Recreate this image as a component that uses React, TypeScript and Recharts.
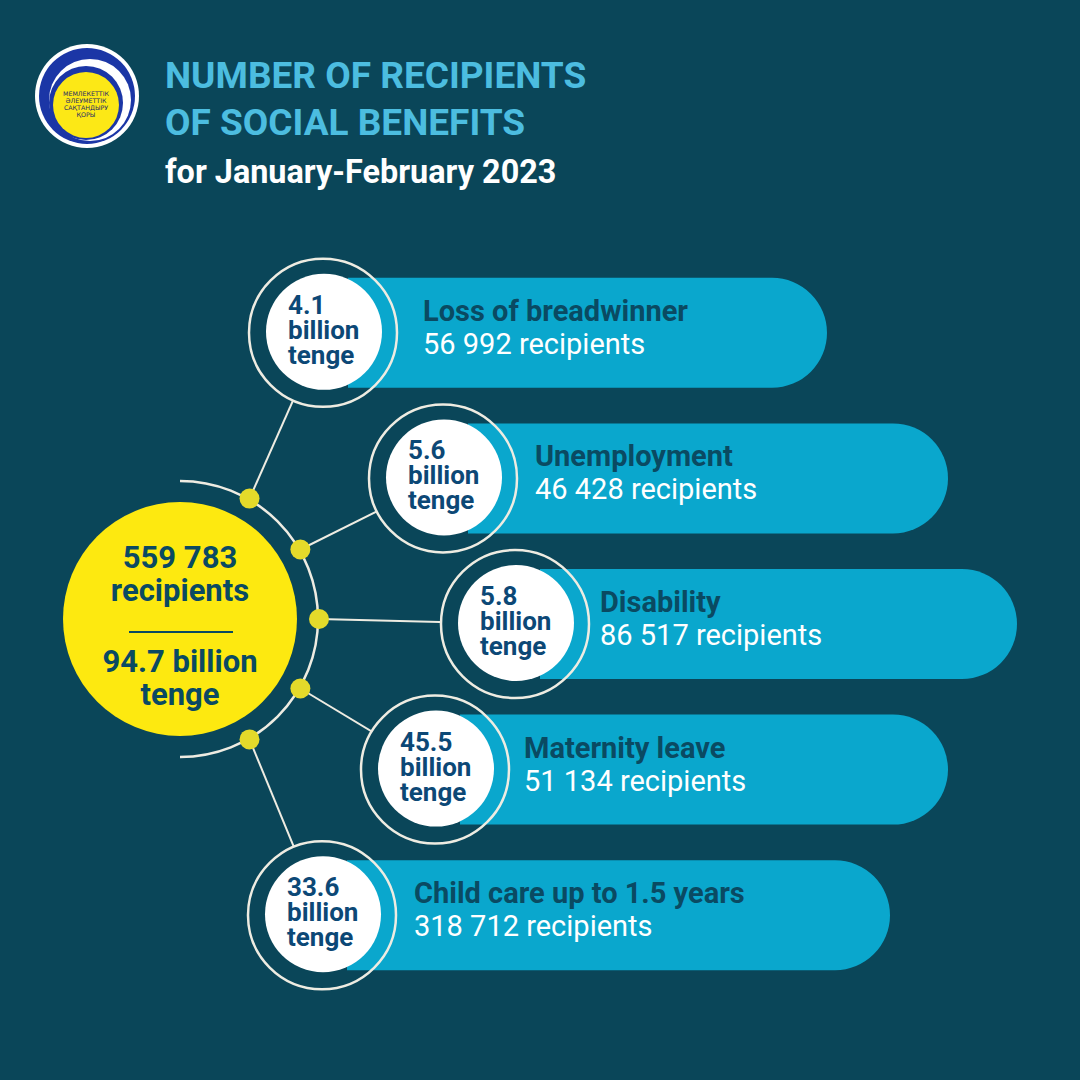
import React from 'react';
import { ScatterChart, Scatter, XAxis, YAxis } from 'recharts';

// benefit types, top to bottom
const CATEGORIES = [
  'Loss of breadwinner',
  'Unemployment',
  'Disability',
  'Maternity leave',
  'Child care up to 1.5 years',
];
const AMOUNT_BN = [4.1, 5.6, 5.8, 45.5, 33.6];
const RECIPIENTS = [56992, 46428, 86517, 51134, 318712];
const TOTAL_RECIPIENTS = 559783;
const TOTAL_BN = 94.7;

// layout of the fan (x of each node, label nudge, where each pill ends)
const NODE_X = [323, 443, 515, 435, 322];
const LABEL_DX = [100, 92, 85, 89, 92];
const PILL_END = [827, 948, 1017, 948, 890];
const HUB_X = 180;
const HUB_DY = -5;

const W = 1080;
const H = 1080;
const PLOT_TOP = 260;
const PLOT_BOTTOM = 92;
const ROW_STEP = (H - PLOT_TOP - PLOT_BOTTOM) / CATEGORIES.length;
const MID = Math.floor(CATEGORIES.length / 2);

const BG = '#0a4659';
const PILL = '#0aa7cd';
const NAVY = '#0c4876';
const DARK = '#0a4a62';
const YELLOW = '#fde910';
const DOT = '#e4da2a';
const RING = '#eeece2';
const FONT = 'Roboto, sans-serif';

const fmt = (n: number) => n.toString().replace(/\B(?=(\d{3})+(?!\d))/g, ' ');

const rows = CATEGORIES.map((name, i) => ({
  name,
  x: NODE_X[i],
  i,
  amount: AMOUNT_BN[i],
  recipients: RECIPIENTS[i],
}));
const hub = [{ name: CATEGORIES[MID], x: HUB_X, recipients: TOTAL_RECIPIENTS, amount: TOTAL_BN }];

const dotAt = (hx: number, hy: number, i: number) => {
  const a = ((i - MID) * 30 * Math.PI) / 180;
  return [hx + 139 * Math.cos(a), hy + 139 * Math.sin(a)];
};

const NodeShape = (props: any) => {
  const { cx, cy, payload } = props;
  const i = payload.i;
  const hubY = cy + (MID - i) * ROW_STEP + HUB_DY;
  const [dx, dy] = dotAt(HUB_X, hubY, i);
  const left = cx + 25;
  const right = PILL_END[i];
  const top = cy - 55;
  const bottom = cy + 55;
  const lx = cx + LABEL_DX[i];
  return (
    <g>
      <line x1={dx} y1={dy} x2={cx} y2={cy} stroke={RING} strokeWidth={2} />
      <path
        d={`M${left},${top} H${right - 55} A55,55 0 0 1 ${right - 55},${bottom} H${left} Z`}
        fill={PILL}
      />
      <circle cx={cx} cy={cy} r={74} fill={BG} />
      <path
        d={`M${left},${top} H${cx + 80} V${bottom} H${left} Z`}
        fill={PILL}
        clipPath={`url(#ringclip${i})`}
      />
      <defs>
        <clipPath id={`ringclip${i}`}>
          <circle cx={cx} cy={cy} r={74} />
        </clipPath>
      </defs>
      <circle cx={cx} cy={cy} r={74} fill="none" stroke={RING} strokeWidth={2.5} />
      <circle cx={cx + 1} cy={cy - 1} r={58} fill="#ffffff" />
      <text x={cx - 35} fontFamily={FONT} fontWeight={700} fontSize={26} fill={NAVY}>
        <tspan x={cx - 35} y={cy - 19}>{payload.amount.toFixed(1)}</tspan>
        <tspan x={cx - 35} y={cy + 6}>billion</tspan>
        <tspan x={cx - 35} y={cy + 31}>tenge</tspan>
      </text>
      <text x={lx} y={cy - 12} fontFamily={FONT} fontWeight={700} fontSize={29} fill={DARK}>
        {payload.name}
      </text>
      <text x={lx} y={cy + 21} fontFamily={FONT} fontWeight={400} fontSize={29} fill="#ffffff">
        {fmt(payload.recipients)} recipients
      </text>
    </g>
  );
};

const HubShape = (props: any) => {
  const { cx, cy, payload } = props;
  const hy = cy + HUB_DY;
  return (
    <g>
      <circle cx={cx} cy={hy} r={117} fill={YELLOW} />
      <path
        d={`M${cx},${hy - 138} A138,138 0 0 1 ${cx},${hy + 138}`}
        fill="none"
        stroke={RING}
        strokeWidth={2.5}
      />
      {CATEGORIES.map((c, i) => {
        const [x, y] = dotAt(cx, hy, i);
        return <circle key={c} cx={x} cy={y} r={10} fill={DOT} />;
      })}
      <g fontFamily={FONT} fontWeight={700} fontSize={31} fill={DARK} textAnchor="middle">
        <text x={cx} y={hy - 51}>{fmt(payload.recipients)}</text>
        <text x={cx} y={hy - 18}>recipients</text>
        <line x1={cx - 51} y1={hy + 13} x2={cx + 53} y2={hy + 13} stroke={DARK} strokeWidth={2} />
        <text x={cx} y={hy + 53}>{payload.amount.toFixed(1)} billion</text>
        <text x={cx} y={hy + 86}>tenge</text>
      </g>
    </g>
  );
};

const Logo = () => (
  <svg width={110} height={110} style={{ position: 'absolute', left: 32, top: 41 }}>
    <circle cx={55} cy={55} r={52} fill="#ffffff" />
    <circle cx={55} cy={55} r={48} fill="#1b36a6" />
    <circle cx={58} cy={59} r={41} fill="#ffffff" />
    <circle cx={54} cy={62} r={37} fill="#1b36a6" />
    <circle cx={54} cy={64} r={33} fill="#fce816" />
    <g fontFamily="'DejaVu Sans', sans-serif" fontSize={6.3} fill="#1c2a66" textAnchor="middle">
      <text x={54} y={55}>МЕМЛЕКЕТТІК</text>
      <text x={54} y={62}>ӘЛЕУМЕТТІК</text>
      <text x={54} y={69}>САҚТАНДЫРУ</text>
      <text x={54} y={76}>ҚОРЫ</text>
    </g>
  </svg>
);

export default function App() {
  return (
    <div
      style={{
        position: 'absolute',
        left: 0,
        top: 0,
        width: W,
        height: H,
        background: BG,
        fontFamily: FONT,
        overflow: 'hidden',
      }}
    >
      <Logo />
      <div
        style={{
          position: 'absolute',
          left: 165,
          top: 52,
          color: '#4cbde0',
          fontWeight: 700,
          fontSize: 37,
          lineHeight: '47px',
        }}
      >
        NUMBER OF RECIPIENTS
        <br />
        OF SOCIAL BENEFITS
      </div>
      <div
        style={{
          position: 'absolute',
          left: 165,
          top: 152,
          color: '#ffffff',
          fontWeight: 700,
          fontSize: 32.4,
          lineHeight: '40px',
        }}
      >
        for January-February 2023
      </div>
      <div style={{ position: 'absolute', left: 0, top: 0 }}>
        <ScatterChart
          width={W}
          height={H}
          margin={{ top: PLOT_TOP, right: 0, bottom: PLOT_BOTTOM, left: 0 }}
        >
          <XAxis type="number" dataKey="x" domain={[0, W]} hide />
          <YAxis type="category" dataKey="name" allowDuplicatedCategory={false} reversed hide />
          <Scatter data={rows} shape={NodeShape} isAnimationActive={false} />
          <Scatter data={hub} shape={HubShape} isAnimationActive={false} />
        </ScatterChart>
      </div>
    </div>
  );
}
